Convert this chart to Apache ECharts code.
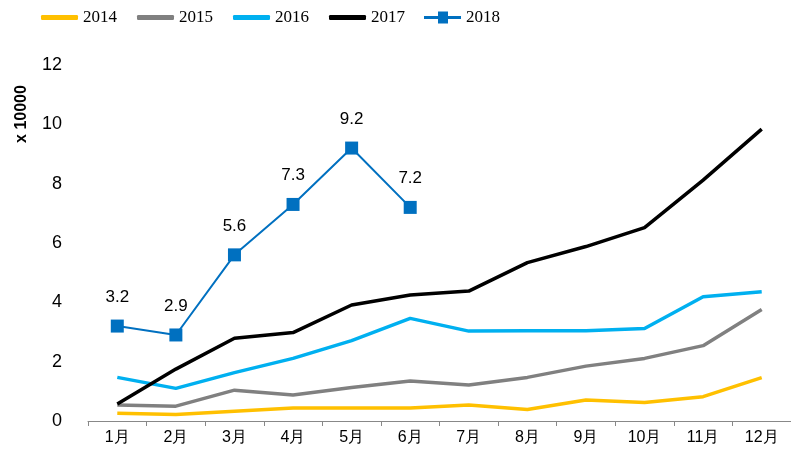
<!DOCTYPE html>
<html>
<head>
<meta charset="utf-8">
<script src="https://cdn.jsdelivr.net/npm/echarts@6/dist/echarts.min.js"></script>
<style>
  html, body { margin: 0; padding: 0; background: #fff; }
  #chart { width: 791px; height: 470px; }
</style>
</head>
<body>
<div id="chart"></div>
<script>
// monthly values, x 10000
const months = ['1月', '2月', '3月', '4月', '5月', '6月', '7月', '8月', '9月', '10月', '11月', '12月'];
const y2014 = [0.26, 0.22, 0.33, 0.44, 0.44, 0.44, 0.54, 0.39, 0.71, 0.62, 0.82, 1.46];
const y2015 = [0.54, 0.5, 1.04, 0.88, 1.13, 1.35, 1.21, 1.47, 1.85, 2.11, 2.54, 3.76];
const y2016 = [1.47, 1.1, 1.63, 2.11, 2.71, 3.46, 3.03, 3.04, 3.04, 3.12, 4.19, 4.36];
const y2017 = [0.57, 1.75, 2.79, 2.98, 3.91, 4.25, 4.38, 5.34, 5.88, 6.52, 8.12, 9.84];
const y2018 = [3.2, 2.9, 5.6, 7.3, 9.2, 7.2];

const chart = echarts.init(document.getElementById('chart'));

const plainLine = (name, data, color) => ({
  name,
  type: 'line',
  data,
  symbol: 'none',
  lineStyle: { color, width: 3.5 },
  itemStyle: { color },
  animation: false
});

const legendText = { fontFamily: 'Liberation Serif', fontSize: 17, color: '#000' };

const option = {
  legend: [
    {
      top: 4,
      left: 36,
      icon: 'roundRect',
      itemWidth: 37,
      itemHeight: 5,
      itemGap: 20,
      textStyle: legendText,
      data: ['2014', '2015', '2016', '2017']
    },
    {
      top: 4,
      left: 419,
      icon: 'path://M0,5.5 L37,5.5 L37,8.5 L0,8.5 Z M14,1 L24,1 L24,13 L14,13 Z',
      itemWidth: 37,
      itemHeight: 14,
      textStyle: legendText,
      data: ['2018']
    }
  ],
  grid: { left: 88, right: 0, top: 65, bottom: 49 },
  xAxis: {
    type: 'category',
    data: months,
    boundaryGap: true,
    axisLine: { lineStyle: { color: '#888', width: 1 } },
    axisTick: { show: true, length: 5, lineStyle: { color: '#888' } },
    axisLabel: { color: '#000', fontFamily: 'Liberation Sans', fontSize: 16, margin: 9 }
  },
  yAxis: {
    type: 'value',
    min: 0,
    max: 12,
    interval: 2,
    axisLine: { show: false },
    axisTick: { show: false },
    splitLine: { show: false },
    axisLabel: { color: '#000', fontFamily: 'Liberation Sans', fontSize: 18, margin: 26 }
  },
  graphic: [{
    type: 'text',
    x: 22,
    y: 114,
    rotation: Math.PI / 2,
    style: {
      text: 'x 10000',
      fontFamily: 'Liberation Sans',
      fontWeight: 'bold',
      fontSize: 16,
      fill: '#000',
      align: 'center',
      verticalAlign: 'middle'
    }
  }],
  series: [
    plainLine('2014', y2014, '#FFC000'),
    plainLine('2015', y2015, '#808080'),
    plainLine('2016', y2016, '#00B0F0'),
    plainLine('2017', y2017, '#000000'),
    {
      name: '2018',
      type: 'line',
      data: y2018,
      symbol: 'rect',
      symbolSize: 13,
      lineStyle: { color: '#0070C0', width: 2 },
      itemStyle: { color: '#0070C0' },
      label: {
        show: true,
        position: 'top',
        distance: 14,
        color: '#000',
        fontFamily: 'Liberation Sans',
        fontSize: 17
      },
      animation: false
    }
  ]
};

chart.setOption(option);
</script>
</body>
</html>
